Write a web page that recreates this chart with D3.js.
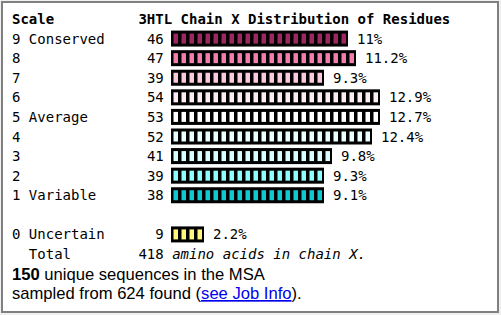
<!DOCTYPE html>
<html>
<head>
<meta charset="utf-8">
<script src="https://cdn.jsdelivr.net/npm/d3@7"></script>
<style>
  html, body { margin: 0; padding: 0; background: #f0f0f0; }
  svg { display: block; }
</style>
</head>
<body>
<svg id="chart" width="501" height="315"></svg>
<script>
// grades of the conservation scale, top to bottom
let grades = ["9", "8", "7", "6", "5", "4", "3", "2", "1", "0"];
let gradeNames = ["Conserved", "", "", "", "Average", "", "", "", "Variable", "Uncertain"];
let counts = [46, 47, 39, 54, 53, 52, 41, 39, 38, 9];
let gradeColors = ["#a02560", "#f07dab", "#fac9de", "#fcedf4", "#ffffff",
                   "#eaffff", "#d7ffff", "#8cffff", "#10c8d1", "#fff87d"];
// text rows the grades sit on (row 10 is left blank)
let gradeRows = [1, 2, 3, 4, 5, 6, 7, 8, 9, 11];
let total = 418;
let chain = "X";
let pdb = "3HTL";
let uniqueSeqs = 150;
let foundSeqs = 624;

function drawDistribution(svgId) {
  let svg = d3.select(svgId);

  let mono = "'DejaVu Sans Mono', monospace";
  let sans = "'Liberation Sans', Arial, sans-serif";
  let charW = 8.43;
  let left = 12;
  let blockStep = 8;

  // box
  svg.append("rect")
    .attr("x", 0).attr("y", 0)
    .attr("width", 501).attr("height", 315)
    .style("fill", "#f0f0f0");
  svg.append("rect")
    .attr("x", 2).attr("y", 2)
    .attr("width", 496).attr("height", 310)
    .style("fill", "#fff")
    .style("stroke", "#808080")
    .style("stroke-width", 2);

  let rowY = d3.scaleLinear().domain([0, 12]).range([24, 259]);
  let pctX = d3.scaleLinear().domain([0, 10]).range([171, 334]);

  let rows = grades.map(function(g, i) {
    let pct = +(counts[i] / total * 100).toFixed(1);
    // bar is made of whole blocks
    let n = Math.round((pctX(pct) - pctX(0)) / blockStep);
    return {
      grade: g,
      name: gradeNames[i],
      count: counts[i],
      pct: pct,
      blocks: n,
      width: n * blockStep + 1,
      color: gradeColors[i],
      row: gradeRows[i]
    };
  });

  // headings
  svg.append("text")
    .attr("x", left).attr("y", rowY(0))
    .text("Scale")
    .style("font-family", mono).style("font-weight", "bold").style("font-size", 14);
  svg.append("text")
    .attr("x", left + 15 * charW).attr("y", rowY(0))
    .text(pdb + " Chain " + chain + " Distribution of Residues")
    .style("font-family", mono).style("font-weight", "bold").style("font-size", 14);

  let g = svg.selectAll(".grade")
    .data(rows)
    .enter()
    .append("g")
    .attr("class", "grade");

  g.append("text")
    .attr("x", left).attr("y", function(d) { return rowY(d.row); })
    .attr("xml:space", "preserve")
    .text(function(d) { return d.grade + (d.name ? " " + d.name : ""); })
    .style("font-family", mono).style("font-size", 14);

  g.append("text")
    .attr("x", left + 18 * charW).attr("y", function(d) { return rowY(d.row); })
    .text(function(d) { return d.count; })
    .style("font-family", mono).style("font-size", 14)
    .style("text-anchor", "end");

  // black bar with coloured blocks
  g.append("rect")
    .attr("x", pctX(0))
    .attr("y", function(d) { return rowY(d.row) - 13; })
    .attr("width", function(d) { return d.width; })
    .attr("height", 16)
    .style("fill", "#000");

  g.each(function(d) {
    d3.select(this).selectAll(".block")
      .data(d3.range(d.blocks))
      .enter()
      .append("rect")
      .attr("class", "block")
      .attr("x", function(k) { return pctX(0) + 2.5 + k * blockStep; })
      .attr("y", rowY(d.row) - 10)
      .attr("width", 4.5)
      .attr("height", 10)
      .style("fill", d.color);
  });

  g.append("text")
    .attr("x", function(d) { return pctX(0) + d.width + 9; })
    .attr("y", function(d) { return rowY(d.row); })
    .text(function(d) { return d.pct + "%"; })
    .style("font-family", mono).style("font-size", 14);

  // total line
  svg.append("text")
    .attr("x", left + 2 * charW).attr("y", rowY(12))
    .text("Total")
    .style("font-family", mono).style("font-size", 14);
  svg.append("text")
    .attr("x", left + 18 * charW).attr("y", rowY(12))
    .text(total)
    .style("font-family", mono).style("font-size", 14)
    .style("text-anchor", "end");
  svg.append("text")
    .attr("x", left + 19 * charW).attr("y", rowY(12))
    .text("amino acids in chain " + chain + ".")
    .style("font-family", mono).style("font-style", "italic").style("font-size", 14);

  // notes
  let t1 = svg.append("text")
    .attr("x", left).attr("y", 280)
    .style("font-family", sans).style("font-size", 16.6);
  t1.append("tspan").style("font-weight", "bold").text(uniqueSeqs);
  t1.append("tspan").text(" unique sequences in the MSA");

  let t2 = svg.append("text")
    .attr("x", left).attr("y", 299)
    .style("font-family", sans).style("font-size", 16.6);
  t2.append("tspan").text("sampled from " + foundSeqs + " found (");
  t2.append("tspan").style("fill", "#0000ee").style("text-decoration", "underline").text("see Job Info");
  t2.append("tspan").text(").");
}

drawDistribution("#chart");
</script>
</body>
</html>
